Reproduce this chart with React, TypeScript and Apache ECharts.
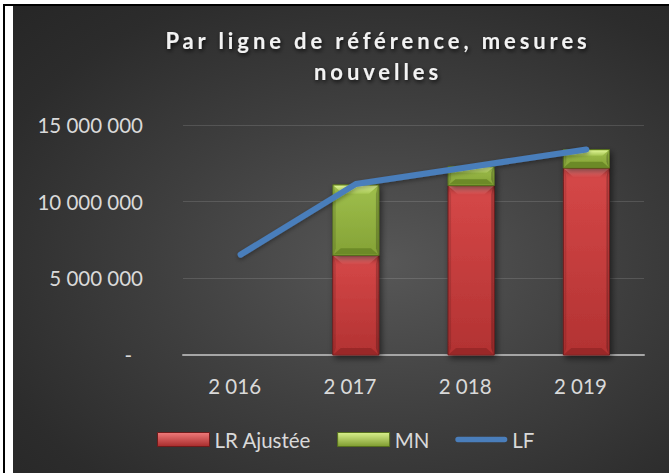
import React, { useEffect, useRef } from 'react';
import * as echarts from 'echarts';

const categories = ['2 016', '2 017', '2 018', '2 019'];
const lrAjustee: (number | null)[] = [null, 6500000, 11050000, 12200000];
const mn: (number | null)[] = [null, 4600000, 1250000, 1200000];
const lf = [6550000, 11150000, 12280000, 13400000];
const yTickLabels = ['-', '5 000 000', '10 000 000', '15 000 000'];
const yInterval = 5000000;
const yMax = 15000000;
const seriesNames = ['LR Ajustée', 'MN', 'LF'];
const titleLines = ['Par ligne de référence, mesures', 'nouvelles'];

const FONT = 'Lato, "Open Sans", sans-serif';
const TXT = '#d9d9d9';

type Pal = { mainTop: string; mainBot: string; edge: string; bevTop: string; bevBot: string; bottom: string };
const redPal: Pal = { mainTop: '#d64848', mainBot: '#b23232', edge: '#6e1b1b', bevTop: '#f88383', bevBot: '#d84a4a', bottom: '#9a2828' };
const greenPal: Pal = { mainTop: '#9fbf4c', mainBot: '#84a236', edge: '#56701e', bevTop: '#dcf292', bevBot: '#a6c653', bottom: '#6c8a27' };

const lin = (a: string, b: string) =>
  new echarts.graphic.LinearGradient(0, 0, 0, 1, [
    { offset: 0, color: a },
    { offset: 1, color: b },
  ]);

function bevelBar(pal: Pal) {
  return (_params: any, api: any) => {
    const i = api.value(0);
    const lo = api.value(1);
    const hi = api.value(2);
    const pTop = api.coord([i, hi]);
    const pBot = api.coord([i, lo]);
    const w = api.size([1, 0])[0] * 0.4;
    const x = pTop[0] - w / 2;
    const y = pTop[1];
    const h = pBot[1] - pTop[1];
    const bt = Math.min(9, h / 3);
    const bb = Math.min(7, h / 3);
    return {
      type: 'group',
      children: [
        {
          type: 'rect',
          shape: { x, y, width: w, height: h },
          style: {
            fill: lin(pal.mainTop, pal.mainBot),
            stroke: pal.edge,
            lineWidth: 1,
            shadowBlur: 6,
            shadowColor: 'rgba(0,0,0,0.55)',
            shadowOffsetX: 2,
            shadowOffsetY: 3,
          },
        },
        {
          type: 'polygon',
          shape: { points: [[x + 1, y + 1], [x + w - 1, y + 1], [x + w - 1 - bt, y + bt], [x + 1 + bt, y + bt]] },
          style: { fill: lin(pal.bevTop, pal.bevBot) },
        },
        {
          type: 'polygon',
          shape: { points: [[x + 1, y + h - 1], [x + w - 1, y + h - 1], [x + w - 1 - bb, y + h - bb], [x + 1 + bb, y + h - bb]] },
          style: { fill: pal.bottom },
        },
        {
          type: 'polygon',
          shape: { points: [[x + 1, y + 1], [x + 3, y + bt], [x + 3, y + h - bb], [x + 1, y + h - 1]] },
          style: { fill: 'rgba(0,0,0,0.12)' },
        },
        {
          type: 'polygon',
          shape: { points: [[x + w - 1, y + 1], [x + w - 3, y + bt], [x + w - 3, y + h - bb], [x + w - 1, y + h - 1]] },
          style: { fill: 'rgba(0,0,0,0.22)' },
        },
      ],
    };
  };
}

export default function App() {
  const ref = useRef<HTMLDivElement>(null);

  useEffect(() => {
    document.body.style.margin = '0';
    if (!ref.current) return;
    const chart = echarts.init(ref.current, undefined, { renderer: 'svg' });

    const lrData: number[][] = [];
    const mnData: number[][] = [];
    categories.forEach((_c, i) => {
      const a = lrAjustee[i];
      const b = mn[i];
      if (a != null) lrData.push([i, 0, a]);
      if (b != null) mnData.push([i, a ?? 0, (a ?? 0) + b]);
    });

    const option: any = {
      animation: false,
      backgroundColor: 'transparent',
      title: {
        text: titleLines.join('\n'),
        left: 365,
        top: 19,
        textAlign: 'center',
        padding: 0,
        textStyle: {
          color: '#f2f2f2',
          fontFamily: FONT,
          fontWeight: 'bold',
          fontSize: 22,
          lineHeight: 31,
          textShadowColor: 'rgba(0,0,0,0.8)',
          textShadowBlur: 4,
          textShadowOffsetX: 1,
          textShadowOffsetY: 2,
        },
      },
      grid: { left: 170, right: 25, top: 119, bottom: 118, containLabel: false },
      legend: {
        left: 144,
        top: 423,
        padding: 0,
        itemWidth: 52,
        itemHeight: 14,
        itemGap: 26,
        symbolKeepAspect: true,
        textStyle: { color: TXT, fontFamily: FONT, fontSize: 20.5 },
        data: [
          {
            name: seriesNames[0],
            icon: 'rect',
            itemStyle: { color: lin('#f07a7a', '#a82c2c'), borderColor: '#6e1b1b', borderWidth: 1 },
          },
          {
            name: seriesNames[1],
            icon: 'rect',
            itemStyle: { color: lin('#d8f08c', '#7f9c30'), borderColor: '#56701e', borderWidth: 1 },
          },
          {
            name: seriesNames[2],
            icon: 'path://M3,0L55,0A3,3,0,0,1,55,6L3,6A3,3,0,0,1,3,0Z',
            itemStyle: { color: '#4a7ebb', borderWidth: 0 },
          },
        ],
      },
      xAxis: {
        type: 'category',
        data: categories,
        boundaryGap: true,
        axisTick: { show: false },
        axisLine: { lineStyle: { color: '#a6a6a6', width: 2 } },
        axisLabel: {
          color: TXT,
          fontFamily: FONT,
          fontSize: 20.5,
          margin: 20,
          padding: [0, 12, 0, 0],
        },
        splitLine: { show: false },
      },
      yAxis: {
        type: 'value',
        min: 0,
        max: yMax,
        interval: yInterval,
        axisLine: { show: false },
        axisTick: { show: false },
        axisLabel: {
          color: TXT,
          fontFamily: FONT,
          fontSize: 20.5,
          margin: 40,
          formatter: (v: number) => {
            const idx = Math.round(v / yInterval);
            return idx === 0 ? '{dash|' + yTickLabels[0] + '}' : yTickLabels[idx];
          },
          rich: {
            dash: { color: TXT, fontFamily: FONT, fontSize: 20.5, padding: [0, 11, 0, 0] },
          },
        },
        splitLine: { lineStyle: { color: 'rgba(255,255,255,0.13)', width: 1 } },
      },
      series: [
        {
          name: seriesNames[0],
          type: 'custom',
          renderItem: bevelBar(redPal),
          encode: { x: 0, y: [1, 2] },
          itemStyle: { color: '#cc3d3d' },
          data: lrData,
          z: 2,
        },
        {
          name: seriesNames[1],
          type: 'custom',
          renderItem: bevelBar(greenPal),
          encode: { x: 0, y: [1, 2] },
          itemStyle: { color: '#94b447' },
          data: mnData,
          z: 2,
        },
        {
          name: seriesNames[2],
          type: 'line',
          data: lf,
          showSymbol: false,
          symbol: 'none',
          itemStyle: { color: '#4a7ebb' },
          lineStyle: {
            color: '#4a7ebb',
            width: 6,
            cap: 'round',
            join: 'round',
            shadowColor: 'rgba(0,0,0,0.35)',
            shadowBlur: 4,
            shadowOffsetY: 2,
          },
          z: 5,
        },
      ],
    };

    const applySpacing = () => {
      const root = ref.current;
      if (!root) return;
      root.querySelectorAll('text').forEach((t) => {
        const s = (t.textContent || '').trim();
        if (titleLines.includes(s)) {
          (t as SVGTextElement).style.letterSpacing = '3.9px';
        }
      });
    };

    chart.setOption(option);
    applySpacing();
    chart.on('finished', applySpacing);

    return () => {
      chart.dispose();
    };
  }, []);

  return (
    <div style={{ position: 'absolute', left: 0, top: 0, width: 669, height: 473, background: '#ffffff', overflow: 'hidden' }}>
      <div style={{ position: 'absolute', left: 3, top: 4, width: 666, height: 2, background: '#000' }} />
      <div style={{ position: 'absolute', left: 3, top: 4, width: 2, height: 469, background: '#000' }} />
      <div
        ref={ref}
        style={{
          position: 'absolute',
          left: 13,
          top: 6,
          width: 656,
          height: 467,
          background: 'radial-gradient(ellipse at 57% 55%, #575757 0%, #3e3e3e 45%, #2c2c2c 80%, #262626 100%)',
        }}
      />
    </div>
  );
}
